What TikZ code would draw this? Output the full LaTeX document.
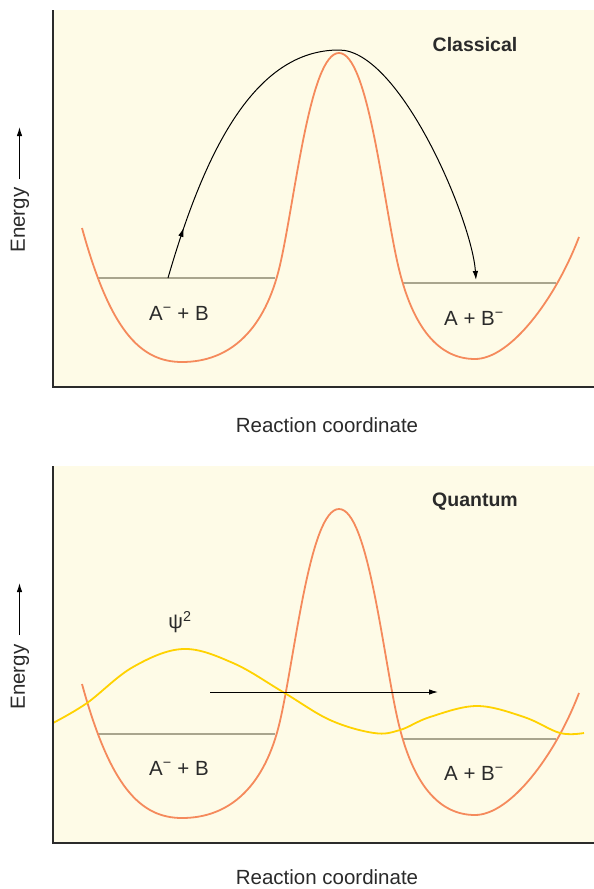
\documentclass[tikz,border=0pt]{standalone}
\usepackage{fontspec}
\setmainfont{Liberation Sans}
\usetikzlibrary{arrows.meta,decorations.markings}
\definecolor{bgcream}{HTML}{FEFBE7}
\definecolor{pesorange}{HTML}{F58A5C}
\definecolor{wavey}{HTML}{FFD200}
\definecolor{levelgray}{HTML}{A9A58E}
\definecolor{axisdark}{HTML}{2B2B2B}
\definecolor{txtdark}{HTML}{2A2A2A}
\newcommand{\pescurve}{(82,228) .. controls (110,330) and (140,362) .. (182,362)
  .. controls (230,362) and (265,330) .. (280,265)
  .. controls (295,200) and (310,53) .. (339,53)
  .. controls (368,53) and (383,200) .. (398,265)
  .. controls (413,330) and (440,359) .. (475,359)
  .. controls (510,359) and (555,300) .. (579,237)}
\begin{document}
\begin{tikzpicture}[x=1pt,y=-1pt,
  panelbg/.style={fill=bgcream,draw=none},
  axisline/.style={draw=axisdark,line width=1.4pt},
  pes/.style={draw=pesorange,line width=1.8pt},
  levelline/.style={draw=levelgray,line width=1.8pt},
  pathline/.style={draw=black,line width=1pt},
  wave/.style={draw=wavey,line width=1.8pt},
  lbl/.style={font=\fontsize{20.5}{24}\selectfont,text=txtdark,inner sep=0pt},
  titlelbl/.style={font=\fontsize{19.5}{23}\selectfont\bfseries,text=txtdark,inner sep=0pt},
  tip/.style={-{Latex[length=9pt,width=5.5pt]}}
]
\useasboundingbox (0,0) rectangle (594,889);

% ---------- Top panel ----------
\fill[panelbg] (53,10) rectangle (594,387);
\coordinate (tl1a) at (97,278);
\coordinate (tl1b) at (275,278);
\coordinate (tl2a) at (403,283);
\coordinate (tl2b) at (556,283);
\draw[levelline] (tl1a) -- (tl1b);
\draw[levelline] (tl2a) -- (tl2b);
\draw[pes] \pescurve;
\coordinate (arcS) at (168,278);
\coordinate (arcT) at (339,50);
\coordinate (arcE) at (476,280);
\draw[pathline,tip,
  postaction={decorate,decoration={markings,mark=at position 0.09 with {\arrow{Latex[length=9pt,width=5.5pt]}}}}]
  (arcS) .. controls (205,150) and (255,50) .. (arcT)
         .. controls (400,50) and (472,220) .. (arcE);
\coordinate (tax0) at (53,387);
\coordinate (taxY) at (53,10);
\coordinate (taxX) at (594,387);
\draw[axisline] (taxY) -- (tax0) -- (taxX);
\node[titlelbl] (tclass) at (475,45) {Classical};
\node[lbl] (tleft) at (179,313) {A\textsuperscript{−} + B};
\node[lbl] (tright) at (474,318) {A + B\textsuperscript{−}};
\node[lbl] (txlab) at (327,425) {Reaction coordinate};
\node[lbl,rotate=90] (tylab) at (20,220) {Energy};
\coordinate (tea) at (19.5,179);
\coordinate (teb) at (19.5,127);
\draw[line width=1pt,tip] (tea) -- (teb);

% ---------- Bottom panel ----------
\fill[panelbg] (53,466) rectangle (594,843);
\coordinate (bl1a) at (97,734);
\coordinate (bl1b) at (275,734);
\coordinate (bl2a) at (403,739);
\coordinate (bl2b) at (556,739);
\draw[levelline] (bl1a) -- (bl1b);
\draw[levelline] (bl2a) -- (bl2b);
\begin{scope}[yshift=-456pt]
\draw[pes] \pescurve;
\end{scope}
\draw[wave] plot[smooth,tension=0.6] coordinates {(53,723) (87,703) (133,667) (183,649) (233,663) (283,692) (330,720) (374,733) (400,730) (430,717) (477,706) (524,717) (560,733) (584,733)};
\coordinate (bar1) at (210,692);
\coordinate (bar2) at (438,692);
\draw[pathline,tip] (bar1) -- (bar2);
\coordinate (bax0) at (53,843);
\coordinate (baxY) at (53,466);
\coordinate (baxX) at (594,843);
\draw[axisline] (baxY) -- (bax0) -- (baxX);
\node[titlelbl] (bquant) at (475,502) {Quantum};
\node[lbl] (bpsi) at (180,622) {ψ\textsuperscript{2}};
\node[lbl] (bleft) at (179,768) {A\textsuperscript{−} + B};
\node[lbl] (bright) at (474,773) {A + B\textsuperscript{−}};
\node[lbl] (bxlab) at (327,877) {Reaction coordinate};
\node[lbl,rotate=90] (bylab) at (20,677) {Energy};
\coordinate (bea) at (19.5,635);
\coordinate (beb) at (19.5,583);
\draw[line width=1pt,tip] (bea) -- (beb);
\end{tikzpicture}
\end{document}
